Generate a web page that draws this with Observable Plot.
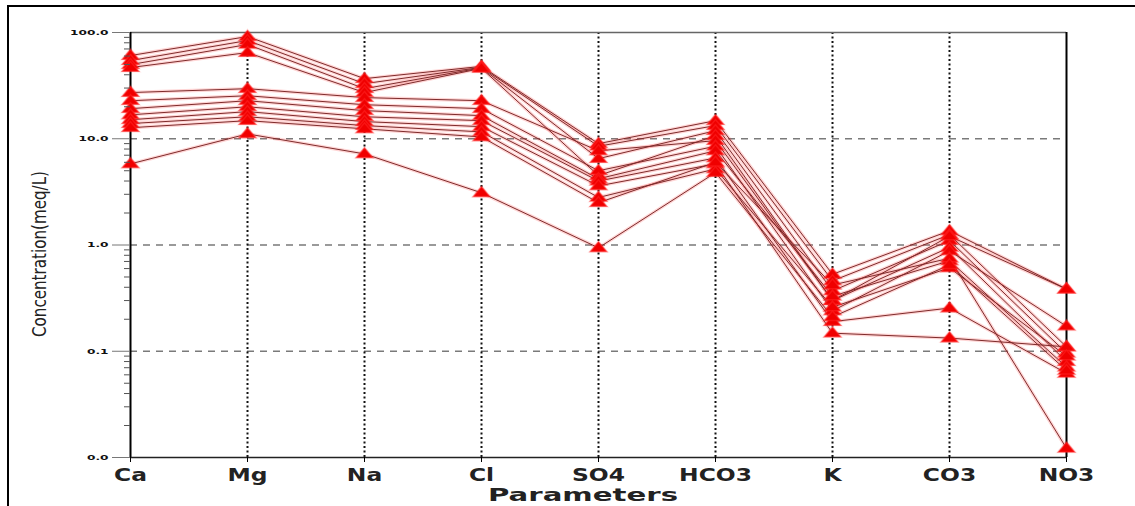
<!DOCTYPE html>
<html><head><meta charset="utf-8">
<script src="https://cdn.jsdelivr.net/npm/d3@7"></script>
<script src="https://cdn.jsdelivr.net/npm/@observablehq/plot@0.6"></script>
<style>
html,body{margin:0;padding:0;background:#fff;}
#wrap{position:relative;width:1135px;height:506px;overflow:hidden;}
#border{position:absolute;left:7px;top:5px;right:-5px;bottom:-5px;border-top:2px solid #000;border-left:2px solid #000;pointer-events:none;}
</style></head>
<body><div id="wrap"><div id="chart"></div><div id="border"></div></div>
<script>
// Categories (x axis)
const params = ["Ca","Mg","Na","Cl","SO4","HCO3","K","CO3","NO3"];
// Y tick values and labels
const yTicks = [100, 10, 1, 0.1, 0.01];
const yTickLabels = ["100.0", "10.0", "1.0", "0.1", "0.0"];
const yMinor = [20,30,40,50,60,70,80,90, 2,3,4,5,6,7,8,9, 0.2,0.3,0.4,0.5,0.6,0.7,0.8,0.9, 0.02,0.03,0.04,0.05,0.06,0.07,0.08,0.09];
// Samples (meq/L), order follows params
const s1  = [60.7, 91.6, 36.8, 48.0, 9.0, 14.8, 0.53, 1.36, 0.385];
const s2  = [54.4, 84.1, 33.0, 47.0, 8.5, 13.3, 0.46, 1.25, 0.110];
const s3  = [49.9, 77.1, 29.6, 46.5, 6.5, 11.9, 0.37, 1.10, 0.096];
const s4  = [46.8, 64.7, 27.2, 46.0, 4.5, 10.7, 0.30, 0.95, 0.080];
const s5  = [27.2, 29.6, 24.4, 22.8, 7.7, 9.6, 0.30, 1.21, 0.385];
const s6  = [22.8, 25.4, 20.9, 19.2, 5.0, 8.5, 0.24, 0.88, 0.172];
const s7  = [19.2, 22.8, 18.4, 16.5, 4.2, 7.7, 0.33, 0.71, 0.071];
const s8  = [16.8, 20.0, 16.1, 14.8, 4.0, 6.6, 0.19, 0.255, 0.062];
const s9  = [15.1, 18.0, 14.5, 13.0, 3.6, 5.8, 0.148, 0.133, 0.110];
const s10 = [13.9, 16.1, 13.3, 11.6, 2.8, 5.2, 0.26, 0.61, 0.090];
const s11 = [12.7, 14.8, 12.4, 10.4, 2.5, 6.0, 0.42, 0.75, 0.0122];
const s12 = [5.8, 11.1, 7.2, 3.1, 0.94, 4.8, 0.21, 0.65, 0.066];
const samples = [s1, s2, s3, s4, s5, s6, s7, s8, s9, s10, s11, s12];

const data = samples.flatMap((vals, i) => vals.map((v, j) => ({sample: i + 1, param: params[j], value: v})));

// flat triangle symbol
const flatTriangle = {
  draw(context, size) {
    const r = Math.sqrt(size / Math.PI);
    context.moveTo(0, -r * 0.75);
    context.lineTo(r, r * 0.45);
    context.lineTo(-r, r * 0.45);
    context.closePath();
  }
};

const plot = Plot.plot({
  width: 1135,
  height: 506,
  marginLeft: 130,
  marginRight: 69,
  marginTop: 32,
  marginBottom: 49,
  style: {background: "transparent", fontFamily: "DejaVu Sans"},
  x: {type: "point", domain: params, padding: 0, label: null},
  y: {type: "log", domain: [0.01, 100], label: null},
  marks: [
    Plot.ruleY([10, 1, 0.1], {stroke: "#7a7a7a", strokeWidth: 1.5, strokeDasharray: "7,6"}),
    Plot.ruleX(params.slice(1, -1), {stroke: "#111", strokeWidth: 2, strokeDasharray: "2,2.5"}),
    Plot.ruleY([100], {stroke: "#666", strokeWidth: 1.5}),
    Plot.ruleY([0.01], {stroke: "#222", strokeWidth: 1.5}),
    Plot.ruleX(["Ca", "NO3"], {stroke: "#000", strokeWidth: 2}),
    Plot.line(data, {x: "param", y: "value", z: "sample", stroke: "#ff4040", strokeWidth: 3.5, strokeOpacity: 0.22}),
    Plot.line(data, {x: "param", y: "value", z: "sample", stroke: "#7e2b2b", strokeWidth: 1}),
    Plot.dot(data, {x: "param", y: "value", symbol: flatTriangle, r: 11, fill: "#ff3030", fillOpacity: 0.12}),
    Plot.dot(data, {x: "param", y: "value", symbol: flatTriangle, r: 8, fill: "#f00000", stroke: "#ff2020", strokeWidth: 1.5, strokeOpacity: 0.6}),
    Plot.axisY(yMinor, {anchor: "left", tickSize: 6, tickFormat: () => "", stroke: "#555", label: null}),
    Plot.axisY(yTicks, {anchor: "left", tickSize: 18, tickPadding: 4, stroke: "#777",
      tickFormat: d => yTickLabels[yTicks.indexOf(d)], fontSize: 9, fontWeight: "bold", label: null}),
    Plot.axisX(params, {anchor: "bottom", tickSize: 5, tickPadding: 6, fontSize: 18, fontWeight: "bold", stroke: "#000", label: null})
  ]
});

document.getElementById("chart").appendChild(plot);

// Stretch tick labels horizontally to mimic the original wide bold face
plot.querySelectorAll('[aria-label="x-axis tick label"] text').forEach(t => {
  t.setAttribute("transform", (t.getAttribute("transform") || "") + " scale(1.3,1)");
  t.setAttribute("fill", "#222");
});
plot.querySelectorAll('[aria-label="y-axis tick label"] text').forEach(t => {
  t.setAttribute("transform", (t.getAttribute("transform") || "") + " scale(1.35,0.8)");
  t.setAttribute("fill", "#111");
});

const svg = d3.select(plot);
svg.append("text")
  .attr("transform", "translate(46,254) rotate(-90)")
  .attr("text-anchor", "middle")
  .attr("font-family", "'Liberation Sans Narrow','DejaVu Sans Condensed',sans-serif")
  .attr("font-size", 20)
  .attr("fill", "#222")
  .attr("textLength", 166)
  .attr("lengthAdjust", "spacingAndGlyphs")
  .text("Concentration(meq/L)");
svg.append("text")
  .attr("x", 583)
  .attr("y", 501)
  .attr("text-anchor", "middle")
  .attr("font-family", "'DejaVu Sans',sans-serif")
  .attr("font-weight", "bold")
  .attr("font-size", 18)
  .attr("fill", "#222")
  .attr("textLength", 190)
  .attr("lengthAdjust", "spacingAndGlyphs")
  .text("Parameters");
</script>
</body></html>
